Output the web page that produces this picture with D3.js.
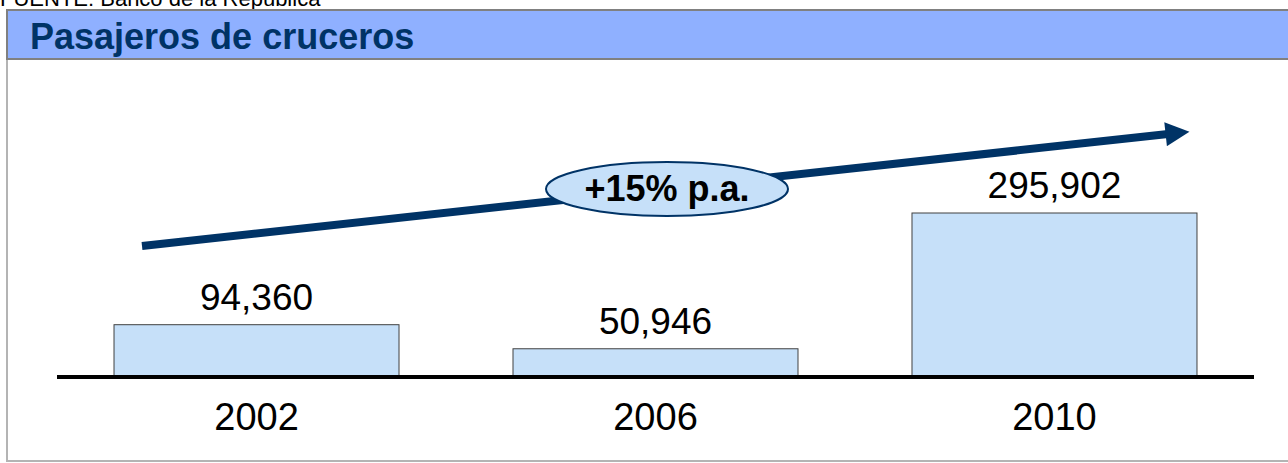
<!DOCTYPE html>
<html>
<head>
<meta charset="utf-8">
<script src="https://cdn.jsdelivr.net/npm/d3@7"></script>
<style>
  body { margin: 0; background: #fff; }
  svg { display: block; font-family: Arial, "Liberation Sans", sans-serif; }
</style>
</head>
<body>
<div id="chart"></div>
<script>
// datos
var years = ["2002", "2006", "2010"];
var pasajeros = [94360, 50946, 295902];
var titulo = "Pasajeros de cruceros";
var fuente = "FUENTE: Banco de la República";
var crecimiento = "+15% p.a.";

var W = 1288, H = 463;
var navy = "#003366";

var svg = d3.select("#chart").append("svg")
  .attr("width", W)
  .attr("height", H);

// fuente (cortada arriba, como en el original)
svg.append("text")
  .attr("x", 0)
  .attr("y", 6)
  .style("font-size", "22px")
  .style("fill", "#000")
  .text(fuente);

// marco
svg.append("rect")
  .attr("x", 7).attr("y", 10)
  .attr("width", W + 10).attr("height", H - 12)
  .style("fill", "#fff")
  .style("stroke", "#b4b4b4")
  .style("stroke-width", 2);

// banda del titulo
svg.append("rect")
  .attr("x", 7).attr("y", 10)
  .attr("width", W + 10).attr("height", 49)
  .style("fill", "#8fb0ff")
  .style("stroke", "#808080")
  .style("stroke-width", 2);

svg.append("text")
  .attr("x", 30)
  .attr("y", 49)
  .style("font-size", "36px")
  .style("font-weight", "bold")
  .style("fill", navy)
  .text(titulo);

// escalas
var baseY = 377;
var x = d3.scaleBand()
  .domain(years)
  .range([57, 1254])
  .paddingInner(0.2857)
  .paddingOuter(0.1429);

var y = d3.scaleLinear()
  .domain([0, 295902])
  .range([baseY, 213]);

// barras
svg.selectAll(".bar")
  .data(years)
  .enter().append("rect")
  .attr("class", "bar")
  .attr("x", function(d) { return x(d); })
  .attr("y", function(d, i) { return y(pasajeros[i]); })
  .attr("width", x.bandwidth())
  .attr("height", function(d, i) { return baseY - y(pasajeros[i]); })
  .style("fill", "#c6e0f9")
  .style("stroke", "#404040")
  .style("stroke-width", 1);

// valores
svg.selectAll(".val")
  .data(years)
  .enter().append("text")
  .attr("class", "val")
  .attr("x", function(d) { return x(d) + x.bandwidth() / 2; })
  .attr("y", function(d, i) { return y(pasajeros[i]) - 15; })
  .attr("text-anchor", "middle")
  .style("font-size", "37px")
  .style("fill", "#000")
  .text(function(d, i) { return d3.format(",")(pasajeros[i]); });

// eje x
var axis = svg.append("g")
  .attr("transform", "translate(0," + baseY + ")")
  .call(d3.axisBottom(x).tickSize(0).tickPadding(26));
axis.select(".domain")
  .attr("d", "M57,0H1254")
  .style("stroke", "#000")
  .style("stroke-width", 4);
axis.selectAll("text")
  .style("font-size", "38px")
  .style("font-family", "Arial, 'Liberation Sans', sans-serif")
  .style("fill", "#000");

// flecha de tendencia
var defs = svg.append("defs");
defs.append("marker")
  .attr("id", "head")
  .attr("viewBox", "0 0 10 10")
  .attr("refX", 1).attr("refY", 5)
  .attr("markerUnits", "userSpaceOnUse")
  .attr("markerWidth", 25).attr("markerHeight", 24)
  .attr("orient", "auto")
  .append("path")
  .attr("d", "M0,0L10,5L0,10Z")
  .style("fill", navy);

svg.append("line")
  .attr("x1", 142).attr("y1", 246)
  .attr("x2", 1168).attr("y2", 134)
  .style("stroke", navy)
  .style("stroke-width", 8)
  .attr("marker-end", "url(#head)");

// etiqueta de crecimiento
svg.append("ellipse")
  .attr("cx", 667).attr("cy", 189)
  .attr("rx", 121).attr("ry", 27)
  .style("fill", "#c6e0f9")
  .style("stroke", navy)
  .style("stroke-width", 2);

svg.append("text")
  .attr("x", 667)
  .attr("y", 201)
  .attr("text-anchor", "middle")
  .style("font-size", "36px")
  .style("font-weight", "bold")
  .style("fill", "#000")
  .text(crecimiento);
</script>
</body>
</html>
